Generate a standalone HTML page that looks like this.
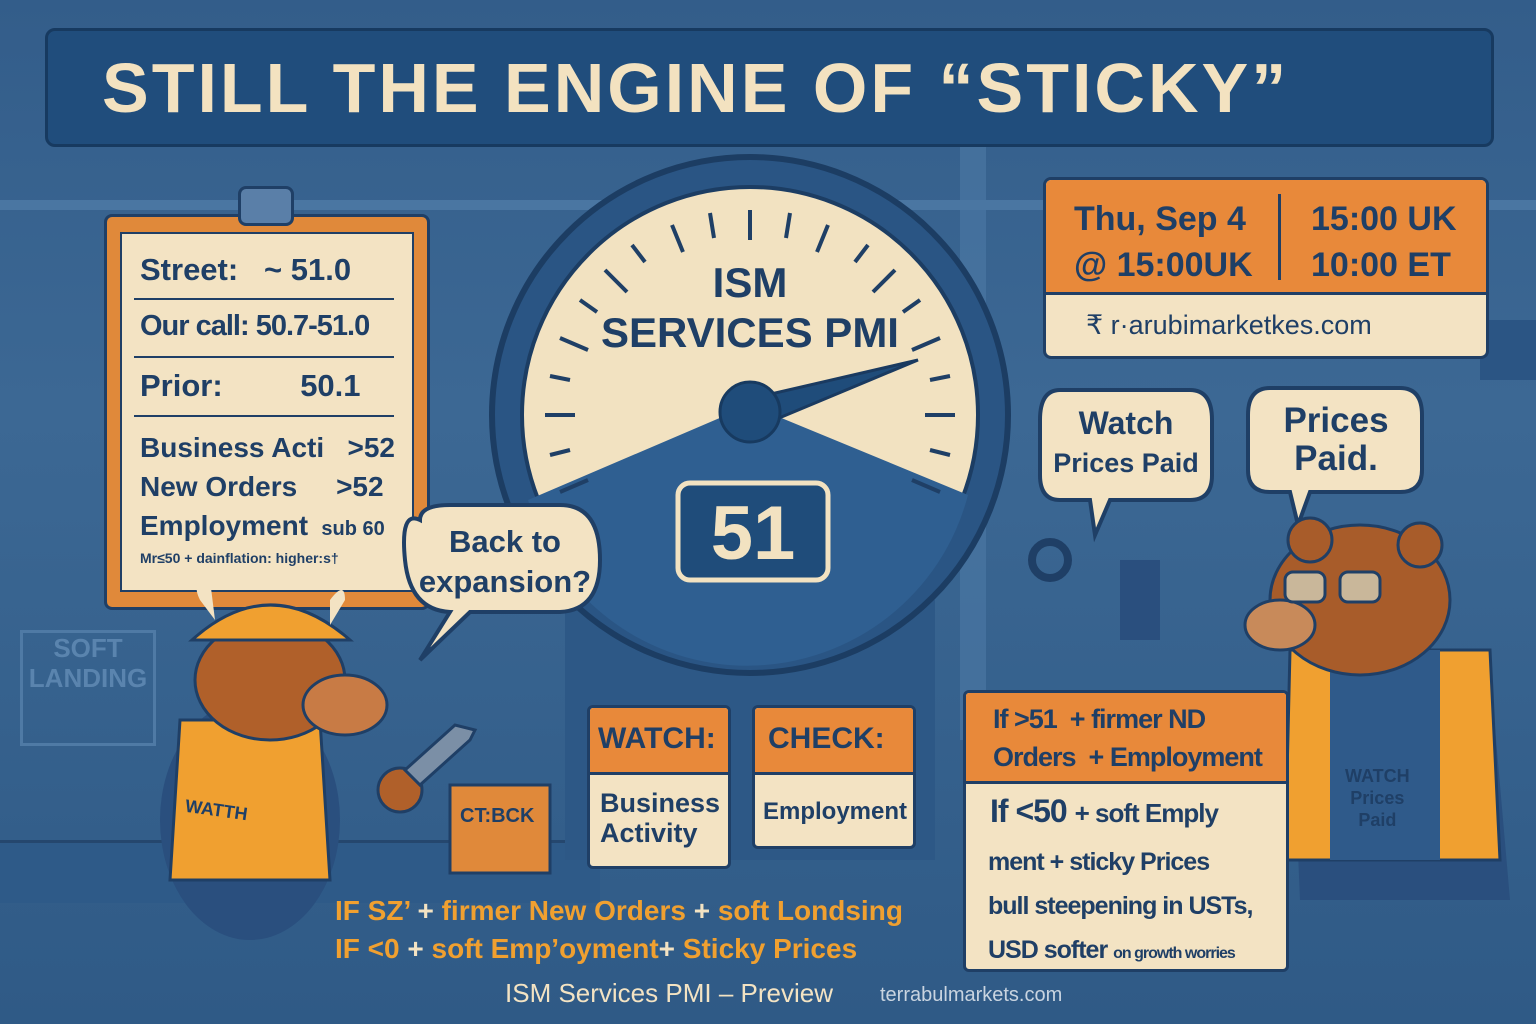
<!DOCTYPE html>
<html><head><meta charset="utf-8"><style>
body{margin:0;width:1536px;height:1024px;overflow:hidden;background:#3a6591;font-family:"Liberation Sans",sans-serif;}
.abs{position:absolute}
.t{font-weight:bold;color:#1f3f66}
</style></head><body>
<div class="abs" style="left:0;top:0;width:1536px;height:1024px;background:linear-gradient(#335d8a,#3c6894 40%,#2f5a86)"></div>
<div class="abs" style="left:0;top:200px;width:1536px;height:10px;background:#4a76a2"></div>
<div class="abs" style="left:960px;top:140px;width:26px;height:600px;background:#4a76a2;opacity:.7"></div>
<div class="abs" style="left:1480px;top:320px;width:56px;height:60px;background:#2b5584"></div>
<div class="abs" style="left:0;top:840px;width:600px;height:60px;background:#2e5a88;border-top:3px solid #25476e"></div>
<div class="abs" style="left:45px;top:28px;width:1443px;height:113px;background:#204d7c;border:3px solid #173a60;border-radius:10px"></div>
<div class="abs" style="left:102px;top:48px;font-size:70px;font-weight:bold;color:#f3e2c0;letter-spacing:3px">STILL THE ENGINE OF “STICKY”</div>
<div class="abs" style="left:104px;top:214px;width:320px;height:390px;background:#e0893a;border:3px solid #1f3f66;border-radius:8px"></div>
<div class="abs" style="left:238px;top:186px;width:50px;height:34px;background:#5a7fa8;border:3px solid #1f3f66;border-radius:8px"></div>
<div class="abs" style="left:120px;top:232px;width:290px;height:356px;background:#f3e3c3;border:2px solid #1f3f66"></div>
<div class="abs t" style="left:140px;top:252px;font-size:31px">Street:&nbsp;&nbsp;&nbsp;~ 51.0</div>
<div class="abs" style="left:134px;top:298px;width:260px;height:2px;background:#1f3f66"></div>
<div class="abs t" style="left:140px;top:310px;font-size:29px;letter-spacing:-1px">Our call: 50.7-51.0</div>
<div class="abs" style="left:134px;top:356px;width:260px;height:2px;background:#1f3f66"></div>
<div class="abs t" style="left:140px;top:368px;font-size:31px">Prior:&nbsp;&nbsp;&nbsp;&nbsp;&nbsp;&nbsp;&nbsp;&nbsp;&nbsp;50.1</div>
<div class="abs" style="left:134px;top:415px;width:260px;height:2px;background:#1f3f66"></div>
<div class="abs t" style="left:140px;top:428px;font-size:28px;line-height:39px">Business Acti&nbsp;&nbsp;&nbsp;&gt;52<br>New Orders&nbsp;&nbsp;&nbsp;&nbsp;&nbsp;&gt;52<br>Employment <span style="font-size:20px">&nbsp;sub 60</span></div>
<div class="abs t" style="left:140px;top:550px;font-size:14px">Mr≤50 + dainflation: higher:s†</div>
<svg class="abs" style="left:0;top:0" width="1536" height="1024">
<rect x="565" y="600" width="370" height="260" fill="#2d5886"/>
<circle cx="750" cy="415" r="258" fill="#2a5584" stroke="#1c3d63" stroke-width="6"/>
<circle cx="750" cy="415" r="228" fill="#f2e2c1" stroke="#1c3d63" stroke-width="4"/>
<path d="M528 500 L750 405 L968 495 A228 228 0 0 1 528 500 Z" fill="#2f5f91"/>
<g stroke="#1f3f66" stroke-width="4">
<line x1="545" y1="415" x2="575" y2="415"/><line x1="925" y1="415" x2="955" y2="415"/>
<line x1="750" y1="210" x2="750" y2="240"/><line x1="605" y1="270" x2="627" y2="292"/>
<line x1="895" y1="270" x2="873" y2="292"/><line x1="560" y1="338" x2="588" y2="350"/>
<line x1="940" y1="338" x2="912" y2="350"/><line x1="560" y1="492" x2="588" y2="480"/>
<line x1="940" y1="492" x2="912" y2="480"/><line x1="672" y1="225" x2="683" y2="252"/>
<line x1="828" y1="225" x2="817" y2="252"/><line x1="550" y1="376" x2="570" y2="380"/>
<line x1="950" y1="376" x2="930" y2="380"/><line x1="580" y1="300" x2="597" y2="312"/><line x1="920" y1="300" x2="903" y2="312"/>
<line x1="632" y1="245" x2="645" y2="262"/><line x1="868" y1="245" x2="855" y2="262"/><line x1="710" y1="213" x2="714" y2="238"/><line x1="790" y1="213" x2="786" y2="238"/>
<line x1="550" y1="455" x2="570" y2="450"/><line x1="950" y1="455" x2="930" y2="450"/>
</g>
<polygon points="745,400 918,360 755,428" fill="#1f4c7a" stroke="#1a3a60" stroke-width="3"/>
<circle cx="750" cy="412" r="30" fill="#1f4c7a" stroke="#173a60" stroke-width="3"/>
<rect x="678" y="483" width="150" height="97" rx="12" fill="#1f4c7a" stroke="#f2e2c1" stroke-width="5"/>
<path d="M420 520 Q400 510 405 560 Q410 610 450 612 L420 660 L470 612 L560 612 Q600 610 600 560 Q600 505 560 505 L450 505 Q420 505 420 520Z" fill="#f3e3c3" stroke="#1f3f66" stroke-width="4"/>
<path d="M1060 390 L1190 390 Q1212 390 1212 420 L1212 475 Q1212 500 1190 500 L1110 500 L1095 535 L1090 500 L1060 500 Q1040 500 1040 475 L1040 420 Q1040 390 1060 390Z" fill="#f3e3c3" stroke="#1f3f66" stroke-width="4"/>
<path d="M1270 388 L1400 388 Q1422 388 1422 415 L1422 470 Q1422 492 1400 492 L1310 492 L1298 525 L1290 492 L1270 492 Q1248 492 1248 470 L1248 415 Q1248 388 1270 388Z" fill="#f3e3c3" stroke="#1f3f66" stroke-width="4"/>
<ellipse cx="250" cy="820" rx="90" ry="120" fill="#2a4f7e"/>
<path d="M180 720 L320 720 L330 880 L170 880Z" fill="#f0a030" stroke="#1f3f66" stroke-width="3"/>
<ellipse cx="270" cy="680" rx="75" ry="60" fill="#b0602a" stroke="#1f3f66" stroke-width="3"/>
<ellipse cx="345" cy="705" rx="42" ry="30" fill="#c87b45" stroke="#1f3f66" stroke-width="3"/>
<path d="M192 640 Q270 570 350 640 Z" fill="#f0a030" stroke="#1f3f66" stroke-width="3"/>
<path d="M200 600 Q190 580 210 580 L215 620Z" fill="#f3e3c3"/><path d="M330 600 Q345 580 345 600 L330 625Z" fill="#f3e3c3"/>
<circle cx="400" cy="790" r="22" fill="#b0602a" stroke="#1f3f66" stroke-width="3"/>
<path d="M405 770 L455 725 L475 730 L470 740 L420 785Z" fill="#7b8fa6" stroke="#1f3f66" stroke-width="3"/>
<rect x="450" y="785" width="100" height="88" fill="#e0893a" stroke="#1f3f66" stroke-width="3"/>
<circle cx="1050" cy="560" r="18" fill="none" stroke="#1f3f66" stroke-width="8"/>
<rect x="1120" y="560" width="40" height="80" fill="#2a4f7e"/>
<path d="M1290 660 Q1390 620 1490 670 L1510 900 L1300 900Z" fill="#2a4f7e"/>
<path d="M1290 650 L1490 650 L1500 860 L1285 860Z" fill="#f0a030" stroke="#1f3f66" stroke-width="3"/>
<rect x="1330" y="650" width="110" height="210" fill="#2f5a8a"/>
<ellipse cx="1360" cy="600" rx="90" ry="75" fill="#a85c2a" stroke="#1f3f66" stroke-width="3"/>
<circle cx="1310" cy="540" r="22" fill="#a85c2a" stroke="#1f3f66" stroke-width="3"/>
<circle cx="1420" cy="545" r="22" fill="#a85c2a" stroke="#1f3f66" stroke-width="3"/>
<ellipse cx="1280" cy="625" rx="35" ry="25" fill="#c88a5a" stroke="#1f3f66" stroke-width="3"/>
<rect x="1285" y="572" width="40" height="30" rx="8" fill="#c9b79a" stroke="#1f3f66" stroke-width="3"/>
<rect x="1340" y="572" width="40" height="30" rx="8" fill="#c9b79a" stroke="#1f3f66" stroke-width="3"/>
</svg>
<div class="abs" style="left:680px;top:490px;width:146px;text-align:center;font-size:76px;font-weight:bold;color:#f2e2c1">51</div>
<div class="abs t" style="left:600px;top:258px;width:300px;text-align:center;font-size:42px;line-height:50px;color:#1f3f66">ISM<br>SERVICES PMI</div>
<div class="abs t" style="left:415px;top:522px;width:180px;text-align:center;font-size:31px;line-height:40px">Back to<br>expansion?</div>
<div class="abs t" style="left:1040px;top:404px;width:172px;text-align:center;font-size:32px;line-height:38px">Watch<br><span style="font-size:27px">Prices Paid</span></div>
<div class="abs t" style="left:1250px;top:402px;width:172px;text-align:center;font-size:35px;line-height:38px">Prices<br>Paid.</div>
<div class="abs t" style="left:185px;top:800px;font-size:18px;transform:rotate(8deg)">WATTH</div>
<div class="abs t" style="left:460px;top:805px;font-size:20px">CT:BCK</div>
<div class="abs t" style="left:1345px;top:765px;font-size:18px;text-align:center;line-height:22px">WATCH<br>Prices<br>Paid</div>
<div class="abs" style="left:1043px;top:177px;width:440px;height:176px;background:#f3e3c3;border:3px solid #1f3f66;border-radius:8px;overflow:hidden">
<div style="height:112px;background:#e8893a;border-bottom:3px solid #1f3f66;position:relative">
<div class="abs t" style="left:28px;top:16px;font-size:34px;line-height:46px">Thu, Sep 4<br>@ 15:00UK</div>
<div class="abs" style="left:232px;top:14px;width:3px;height:86px;background:#1f3f66"></div>
<div class="abs t" style="left:265px;top:16px;font-size:34px;line-height:46px">15:00 UK<br>10:00 ET</div></div>
<div class="abs t" style="left:40px;top:130px;font-size:27px;font-weight:normal">₹ r·arubimarketkes.com</div></div>
<div class="abs" style="left:587px;top:705px;width:138px;height:158px;background:#f3e3c3;border:3px solid #1f3f66;border-radius:6px;overflow:hidden"><div style="height:64px;background:#e8893a;border-bottom:3px solid #1f3f66"></div></div>
<div class="abs t" style="left:598px;top:722px;font-size:30px">WATCH:</div>
<div class="abs t" style="left:600px;top:788px;font-size:27px;line-height:30px">Business<br>Activity</div>
<div class="abs" style="left:752px;top:705px;width:158px;height:138px;background:#f3e3c3;border:3px solid #1f3f66;border-radius:6px;overflow:hidden"><div style="height:64px;background:#e8893a;border-bottom:3px solid #1f3f66"></div></div>
<div class="abs t" style="left:768px;top:722px;font-size:30px">CHECK:</div>
<div class="abs t" style="left:763px;top:798px;font-size:24px">Employment</div>
<div class="abs" style="left:963px;top:690px;width:320px;height:276px;background:#f3e3c3;border:3px solid #1f3f66;border-radius:6px;overflow:hidden"><div style="height:88px;background:#e8893a;border-bottom:3px solid #1f3f66"></div></div>
<div class="abs t" style="left:993px;top:700px;font-size:27px;line-height:38px;letter-spacing:-1px">If &gt;51 &nbsp;+ firmer ND<br>Orders &nbsp;+ Employment</div>
<div class="abs t" style="left:990px;top:793px;font-size:32px;letter-spacing:-1px">If &lt;50 <span style="font-size:26px">+ soft Emply</span></div>
<div class="abs t" style="left:988px;top:840px;font-size:25px;line-height:44px;letter-spacing:-1px">ment + sticky Prices<br>bull steepening in USTs,<br>USD softer <span style="font-size:16px">on growth worries</span></div>
<div class="abs" style="left:335px;top:892px;font-size:28px;font-weight:bold;color:#f0a030;line-height:38px">IF SZ’ <span style="color:#f3e3c3">+</span> firmer New Orders <span style="color:#f3e3c3">+</span> soft Londsing<br>IF &lt;0 <span style="color:#f3e3c3">+</span> soft Emp’oyment<span style="color:#f3e3c3">+</span> Sticky Prices</div>
<div class="abs" style="left:505px;top:978px;font-size:26px;color:#f3e3c3">ISM Services PMI – Preview</div>
<div class="abs" style="left:880px;top:984px;font-size:20px;color:#c9d4e0">terrabulmarkets.com</div>
<div class="abs" style="left:20px;top:630px;width:130px;height:110px;border:3px solid #4f7aa5;color:#5a84ae;font-size:26px;font-weight:bold;text-align:center;line-height:30px">SOFT<br>LANDING</div>
</body></html>
